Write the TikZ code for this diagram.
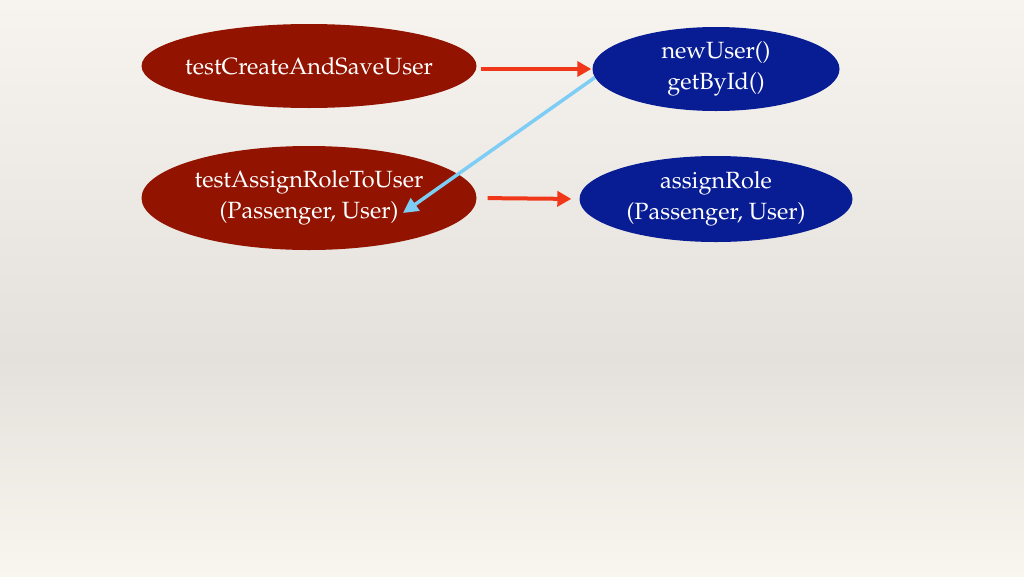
\documentclass[tikz,border=0pt]{standalone}
\usepackage[T1]{fontenc}
\renewcommand{\rmdefault}{ppl}
\usetikzlibrary{arrows.meta,shapes.geometric}
\definecolor{bgtop}{RGB}{247,244,239}
\definecolor{bgmid}{RGB}{228,225,220}
\definecolor{bgbot}{RGB}{249,246,240}
\definecolor{darkred}{RGB}{146,19,0}
\definecolor{darkblue}{RGB}{8,28,148}
\definecolor{arrred}{RGB}{240,55,25}
\definecolor{arrblue}{RGB}{125,205,245}
\tikzset{
  redell/.style={ellipse, fill=darkred, text=white, inner sep=0pt, align=center,
    font=\fontsize{23.5}{31}\selectfont},
  blueell/.style={ellipse, fill=darkblue, text=white, inner sep=0pt, align=center,
    font=\fontsize{23.5}{31}\selectfont},
  redarrow/.style={draw=arrred, line width=4pt, -{Triangle[length=14pt,width=15pt]}},
  bluearrow/.style={draw=arrblue, line width=3.5pt, -{Triangle[length=15pt,width=15pt]}}
}
\begin{document}
\begin{tikzpicture}[x=1pt,y=-1pt]
\useasboundingbox (0,0) rectangle (1024,576);
\shade[top color=bgtop, bottom color=bgmid] (0,0) rectangle (1024,360);
\shade[top color=bgmid, bottom color=bgbot] (0,360) rectangle (1024,576);

\node[redell, inner xsep=-8pt, minimum width=335pt, minimum height=84pt] (r1) at (309,66) {testCreateAndSaveUser};
\node[redell, minimum width=335pt, minimum height=104pt] (r2) at (309,198) {testAssignRoleToUser\\(Passenger, User)};
\node[blueell, minimum width=247pt, minimum height=84pt] (b1) at (716,69) {newUser()\\getById()};
\node[blueell, minimum width=273pt, minimum height=86pt] (b2) at (716,199) {assignRole\\(Passenger, User)};

\coordinate (tip) at (403,213);
\draw[redarrow, shorten <=4pt, shorten >=1pt] (r1.east |- b1.west) -- (b1.west);
\draw[redarrow, shorten <=11pt, shorten >=8pt] (r2.east) -- (b2.west);
\draw[bluearrow] (b1.184) -- (tip);
\end{tikzpicture}
\end{document}
